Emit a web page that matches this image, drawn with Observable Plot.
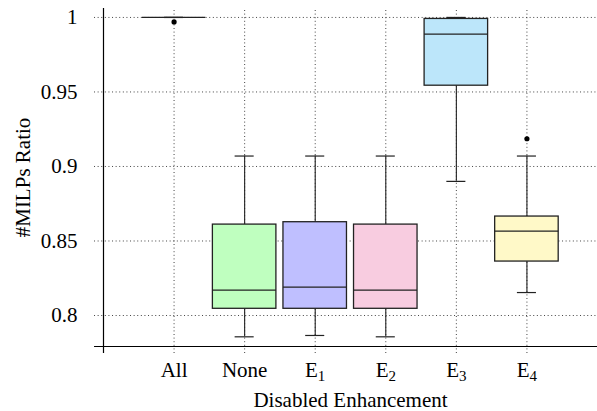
<!DOCTYPE html>
<html>
<head>
<meta charset="utf-8">
<script src="https://cdn.jsdelivr.net/npm/d3@7"></script>
<script src="https://cdn.jsdelivr.net/npm/@observablehq/plot@0.6"></script>
<style>
  html, body { margin: 0; padding: 0; background: #fff; }
  #chart svg { display: block; }
</style>
</head>
<body>
<div id="chart"></div>
<script>
// ---- data ----
const categories   = ["All", "None", "E_1", "E_2", "E_3", "E_4"];
const whiskerLow   = [1.000, 0.7857, 0.7866, 0.7857, 0.890, 0.8154];
const q1           = [1.000, 0.8045, 0.8045, 0.8045, 0.9542, 0.8362];
const median       = [1.000, 0.817, 0.819, 0.817, 0.9888, 0.8566];
const q3           = [1.000, 0.861, 0.8626, 0.861, 0.999, 0.8664];
const whiskerHigh  = [1.000, 0.907, 0.907, 0.907, 1.000, 0.907];
const outlierCat   = ["All", "E_4"];
const outlierValue = [0.997, 0.9186];
const fills        = ["#ffffff", "#bfffbf", "#bfbfff", "#f8cce0", "#bce6fa", "#fff9c8"];
const yTicks       = [0.8, 0.85, 0.9, 0.95, 1];
const yTickLabels  = ["0.8", "0.85", "0.9", "0.95", "1"];
const xLabel = "Disabled Enhancement";
const yLabel = "#MILPs Ratio";

// ---- derived tables ----
const pos = c => categories.indexOf(c) + 1;
const boxes = categories.map((c, i) => ({
  c, x: pos(c), lo: whiskerLow[i], q1: q1[i], med: median[i], q3: q3[i], hi: whiskerHigh[i], fill: fills[i]
}));
const outliers = outlierCat.map((c, i) => ({x: pos(c), v: outlierValue[i]}));
const ticks = yTicks.map((v, i) => ({v, label: yTickLabels[i]}));

const yMin = 0.7792, yMax = 1.006;
const yExt = 0.7745;   // grid/axis overshoot below
const xExt = -0.127;   // grid/axis overshoot left
const hw = 0.45, cw = 0.135;
const font = "Liberation Serif";
const fs = 21;

const grid = {stroke: "#444", strokeWidth: 1, strokeDasharray: "1,2.6"};

const chart = Plot.plot({
  width: 597,
  height: 411,
  marginLeft: 103,
  marginRight: 0,
  marginTop: 8,
  marginBottom: 65,
  x: {type: "linear", domain: [0, 7], axis: null},
  y: {type: "linear", domain: [yMin, yMax], axis: null},
  marks: [
    // grid
    Plot.ruleY(yTicks, {y: d => d, x1: xExt, x2: 7, ...grid}),
    Plot.ruleX(boxes, {x: "x", y1: yExt, y2: yMax, ...grid}),
    // whiskers
    Plot.ruleX(boxes, {x: "x", y1: "q3", y2: "hi", stroke: "#222", strokeWidth: 1.1}),
    Plot.ruleX(boxes, {x: "x", y1: "lo", y2: "q1", stroke: "#222", strokeWidth: 1.1}),
    Plot.ruleY(boxes, {y: "hi", x1: d => d.x - cw, x2: d => d.x + cw, stroke: "#222", strokeWidth: 1.2}),
    Plot.ruleY(boxes, {y: "lo", x1: d => d.x - cw, x2: d => d.x + cw, stroke: "#222", strokeWidth: 1.2}),
    // boxes
    Plot.rect(boxes, {x1: d => d.x - hw, x2: d => d.x + hw, y1: "q1", y2: "q3", fill: "fill", stroke: "#222", strokeWidth: 1.3}),
    Plot.ruleY(boxes, {y: "med", x1: d => d.x - hw, x2: d => d.x + hw, stroke: "#222", strokeWidth: 1.2}),
    // outliers
    Plot.dot(outliers, {x: "x", y: "v", r: 2.6, fill: "#000", stroke: "none"}),
    // axis lines
    Plot.ruleX([0], {x: d => d, y1: yExt, y2: yMax, stroke: "#000", strokeWidth: 1.2}),
    Plot.ruleY([yMin], {y: d => d, x1: xExt, x2: 7, stroke: "#000", strokeWidth: 1.2}),
    // y tick labels
    Plot.text(ticks, {x: 0, y: "v", text: "label", dx: -26, textAnchor: "end", lineAnchor: "middle", fontSize: fs, fontFamily: font}),
    // x tick labels
    Plot.text(boxes, {x: "x", y: yMin, text: "c", dy: 24, textAnchor: "middle", lineAnchor: "middle", fontSize: fs, fontFamily: font}),
    // axis titles
    Plot.text([xLabel], {x: 3.5, y: yMin, text: d => d, dy: 54, textAnchor: "middle", lineAnchor: "middle", fontSize: fs, fontFamily: font}),
    Plot.text([yLabel], {x: 0, y: (yMin + yMax) / 2, text: d => d, dx: -80, rotate: -90, textAnchor: "middle", lineAnchor: "middle", fontSize: fs, fontFamily: font})
  ]
});

// turn "E_1" into E with subscript 1
d3.select(chart).selectAll("text").each(function() {
  const t = this.textContent;
  const m = /^(.*)_(\d+)$/.exec(t);
  if (m) {
    const sel = d3.select(this);
    sel.text(null);
    sel.append("tspan").text(m[1]);
    sel.append("tspan").attr("font-size", "15px").attr("dy", "4").text(m[2]);
  }
});

d3.select(chart).attr("font-family", font);

document.getElementById("chart").appendChild(chart);
</script>
</body>
</html>
